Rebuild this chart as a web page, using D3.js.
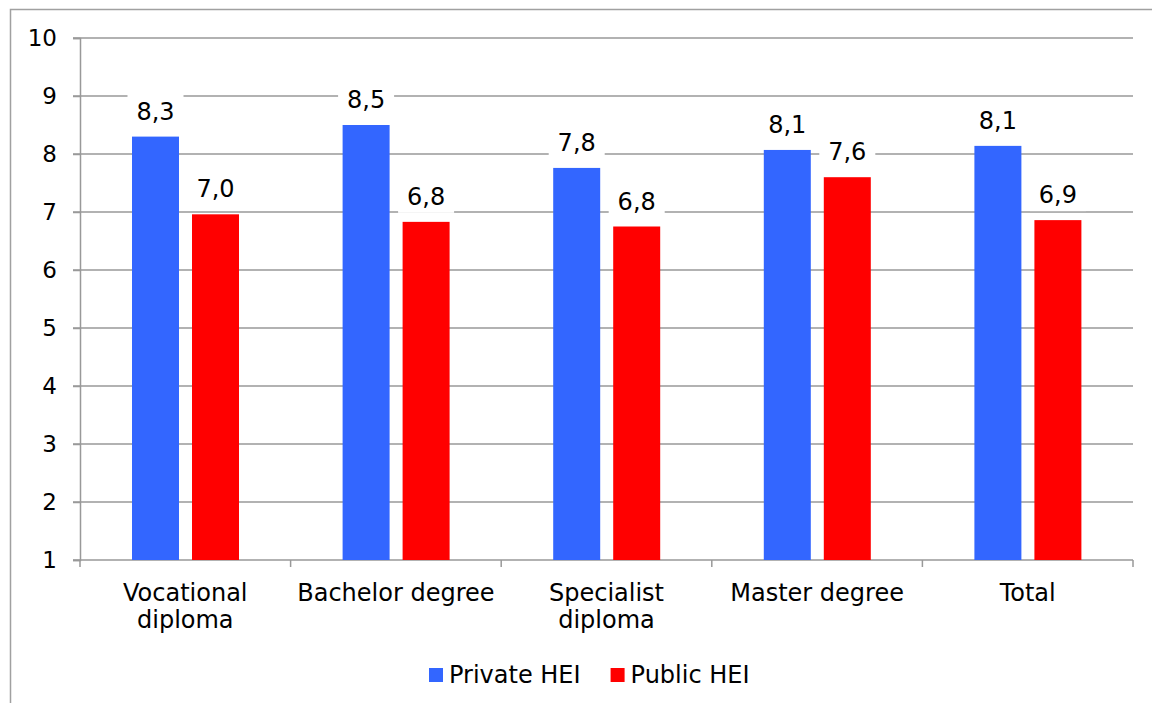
<!DOCTYPE html>
<html>
<head>
<meta charset="utf-8">
<script src="https://cdn.jsdelivr.net/npm/d3@7"></script>
<style>
  body { margin: 0; background: #fff; }
  text { font-family: "DejaVu Sans", Verdana, sans-serif; fill: #000; }
</style>
</head>
<body>
<div id="chart"></div>
<script>
// categorías y series
const categories = [["Vocational", "diploma"], ["Bachelor degree"], ["Specialist", "diploma"], ["Master degree"], ["Total"]];
const seriesNames = ["Private HEI", "Public HEI"];
const privateHEI = [8.3, 8.5, 7.76, 8.07, 8.14];
const publicHEI = [6.96, 6.83, 6.75, 7.6, 6.86];
const yTicks = [1, 2, 3, 4, 5, 6, 7, 8, 9, 10];

const width = 1152;
const height = 703;
const colors = ["#3366ff", "#ff0000"];

const svg = d3.select("#chart")
    .append("svg")
    .attr("width", width)
    .attr("height", height);

// marco exterior
svg.append("rect")
    .attr("x", 10.5).attr("y", 9.5)
    .attr("width", 1300).attr("height", 900)
    .attr("fill", "none")
    .attr("stroke", "#a0a0a0")
    .attr("stroke-width", 1.5);

const plotL = 80, plotR = 1133, plotT = 38, plotB = 560;

const y = d3.scaleLinear().domain([1, 10]).range([plotB, plotT]);
const catKeys = categories.map(c => c.join(" "));
const x0 = d3.scaleBand().domain(catKeys).range([plotL, plotR]);
const x1 = d3.scaleBand().domain(seriesNames).range([52, 159]).paddingInner(0.2167);

// líneas de cuadrícula
svg.append("g")
    .selectAll("line")
    .data(yTicks.slice(1))
    .enter()
    .append("line")
    .attr("x1", plotL - 7).attr("x2", plotR)
    .attr("y1", d => y(d)).attr("y2", d => y(d))
    .attr("stroke", "#999")
    .attr("stroke-width", 1.5);

// eje y
const yAxis = svg.append("g")
    .attr("transform", `translate(${plotL},0)`)
    .call(d3.axisLeft(y).tickValues(yTicks).tickSize(7).tickPadding(16).tickFormat(d3.format("d")));
yAxis.selectAll("line").attr("stroke", "#999").attr("stroke-width", 1.5);
yAxis.select(".domain").attr("stroke", "#999").attr("stroke-width", 1.5);
yAxis.selectAll("text").style("font-size", "23px").attr("font-family", null);

// eje x
svg.append("line")
    .attr("x1", plotL - 7).attr("x2", plotR)
    .attr("y1", plotB).attr("y2", plotB)
    .attr("stroke", "#999").attr("stroke-width", 1.5);
const bounds = catKeys.map(k => x0(k)).concat([plotR]);
svg.append("g")
    .selectAll("line")
    .data(bounds)
    .enter()
    .append("line")
    .attr("x1", d => d).attr("x2", d => d)
    .attr("y1", plotB).attr("y2", plotB + 7)
    .attr("stroke", "#999").attr("stroke-width", 1.5);

// etiquetas de categoría
svg.append("g")
    .selectAll("text")
    .data(categories)
    .enter()
    .append("text")
    .attr("text-anchor", "middle")
    .style("font-size", "24px")
    .attr("x", (d, i) => x0(catKeys[i]) + x0.bandwidth() / 2)
    .attr("y", 601)
    .each(function(d) {
        const t = d3.select(this);
        d.forEach((line, j) => {
            t.append("tspan")
                .attr("x", t.attr("x"))
                .attr("dy", j === 0 ? 0 : 27)
                .text(line);
        });
    });

// barras
const rows = catKeys.map((k, i) => ({ key: k, values: [privateHEI[i], publicHEI[i]] }));
const fmt = v => d3.format(".1f")(v).replace(".", ",");

const groups = svg.append("g")
    .selectAll("g")
    .data(rows)
    .enter()
    .append("g")
    .attr("transform", d => `translate(${x0(d.key)},0)`);

groups.selectAll("rect")
    .data(d => d.values.map((v, j) => ({ s: seriesNames[j], v: v, c: colors[j] })))
    .enter()
    .append("rect")
    .attr("x", d => x1(d.s))
    .attr("width", x1.bandwidth())
    .attr("y", d => y(d.v))
    .attr("height", d => y(1) - y(d.v))
    .attr("fill", d => d.c);

// etiquetas de valores con fondo blanco
const labels = groups.selectAll("g.lbl")
    .data(d => d.values.map((v, j) => ({ s: seriesNames[j], v: v })))
    .enter()
    .append("g")
    .attr("class", "lbl")
    .attr("transform", d => `translate(${x1(d.s) + x1.bandwidth() / 2},${y(d.v) - 17})`);

labels.append("rect")
    .attr("x", -28).attr("y", -27)
    .attr("width", 56).attr("height", 35)
    .attr("fill", "#fff");

labels.append("text")
    .attr("text-anchor", "middle")
    .style("font-size", "24px")
    .text(d => fmt(d.v));

// leyenda
const legend = svg.append("g").attr("transform", "translate(429,668)");
let lx = 0;
seriesNames.forEach((name, i) => {
    const item = legend.append("g").attr("transform", `translate(${lx},0)`);
    item.append("rect")
        .attr("width", 14).attr("height", 14)
        .attr("fill", colors[i]);
    const t = item.append("text")
        .attr("x", 20).attr("y", 15)
        .style("font-size", "24px")
        .text(name);
    lx += 20 + t.node().getComputedTextLength() + 30;
});
</script>
</body>
</html>
